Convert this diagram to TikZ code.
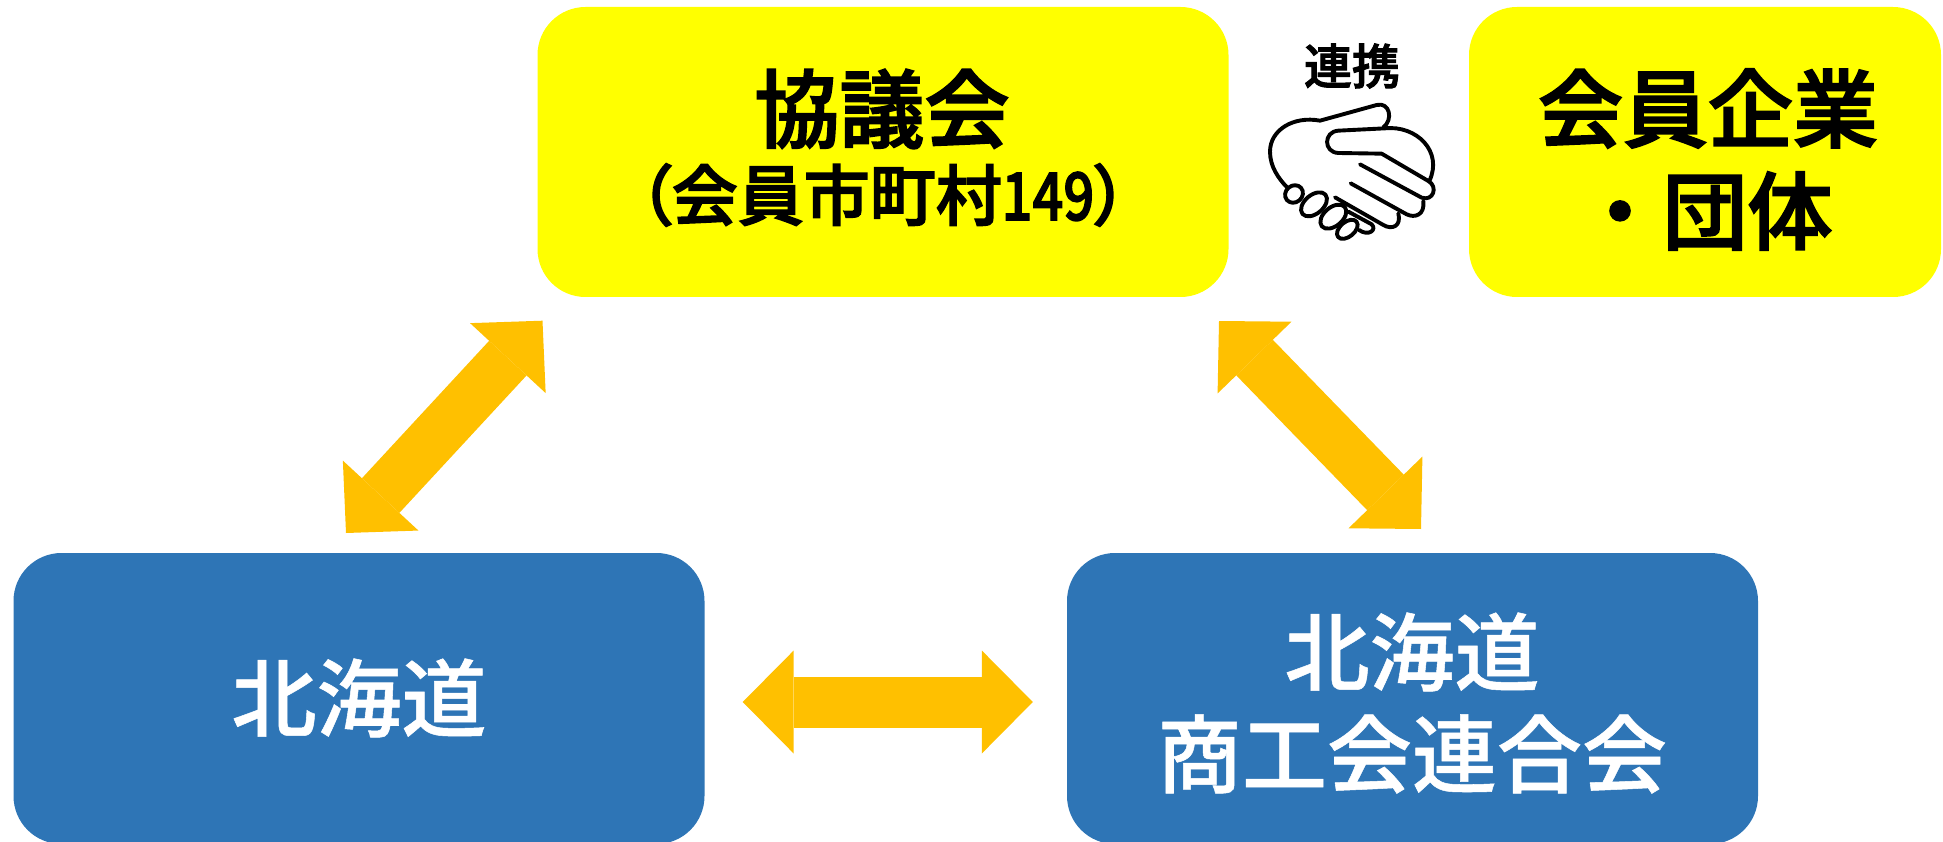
\documentclass[tikz,border=0pt]{standalone}
\usepackage{fontspec}
\setmainfont{Noto Sans CJK JP}
\newfontfamily\medfont{Noto Sans CJK JP Medium}[FakeBold=0.6]
\newfontfamily\kifont{Noto Sans CJK JP Medium}[FakeBold=2.2]
\newfontfamily\paltfont{Noto Sans CJK JP Medium}[FakeBold=2.2,RawFeature=+palt]
\usetikzlibrary{arrows.meta}
\definecolor{kiiro}{HTML}{FFFF00}
\definecolor{ao}{HTML}{2E75B6}
\definecolor{daidai}{HTML}{FFC000}
\newcommand{\fs}[1]{\fontsize{#1}{#1}\selectfont}
\tikzset{
  kibox/.style={fill=kiiro,rounded corners=48pt,minimum height=290pt,inner sep=0pt},
  aobox/.style={fill=ao,rounded corners=48pt,minimum width=691pt,minimum height=291pt,inner sep=0pt},
  kilabel/.style={inner sep=0pt,text=black,font=\kifont\fs{85}},
  aolabel/.style={inner sep=0pt,text=white,font=\medfont\fs{85}},
  renkei/.style={
    -,draw=daidai,line width=51pt,
    {Triangle[length=51pt,width=103pt,line width=0pt,fill=daidai]}-{Triangle[length=51pt,width=103pt,line width=0pt,fill=daidai]}},
  tesen/.style={draw=black,line width=3.9pt,line cap=round,line join=round},
  yubi/.style={fill=white},
}
\begin{document}
\begin{tikzpicture}[x=1pt,y=-1pt]
  \useasboundingbox (0,0) rectangle (1943,842);
  \clip (0,0) rectangle (1943,842);
  % boxes
  \node [kibox,minimum width=691pt] (kyogikai) at (883,152) {};
  \node [kibox,minimum width=472pt] (kaiin) at (1705,152) {};
  \node [aobox] (hokkaido) at (359,698.5) {};
  \node [aobox] (shokoren) at (1412.5,698.5) {};
  % texts
  \node [kilabel] (kyogikaitxt) at (882,109) {協議会};
  \node [kilabel,font=\paltfont\fs{66}] (kaiintxt) at (883,195) {（会員市町村\scalebox{.82}[1]{149}）};
  \node [kilabel] (kaiintxt1) at (1708,108.5) {会員企業};
  \node [kilabel] (kaiintxt2) at (1705,211) {・団体};
  \node [kilabel,font=\kifont\fs{48}] (renkeitxt) at (1352,66) {連携};
  \node [aolabel] (hokkaidotxt) at (359,698) {北海道};
  \node [aolabel] (shokorentxt1) at (1412,652) {北海道};
  \node [aolabel] (shokorentxt2) at (1412,754) {商工会連合会};
  % arrows
  \coordinate (kyogikaiL) at (542.5,320.7);
  \coordinate (hokkaidoU) at (346,533);
  \coordinate (kyogikaiR) at (1219,321);
  \coordinate (shokorenU) at (1421,529);
  \draw [renkei] (kyogikaiL)--(hokkaidoU);
  \draw [renkei] (kyogikaiR)--(shokorenU);
  \draw [renkei,shorten <=38pt,shorten >=34pt] ([yshift=-3.5pt]hokkaido.east)--([yshift=-3.5pt]shokoren.west);
  % handshake
  \begin{scope}[shift={(1260,95)},x=0.3333pt,y=-0.3333pt,tesen]
    \draw (370,97) .. controls (400,75) and (390,20) .. (350,30) -- (180,77)
      .. controls (100,62) and (30,105) .. (30,170) .. controls (30,215) and (55,250) .. (82,278);
    \draw (375,100) -- (235,107) .. controls (190,110) and (190,172) .. (235,174) -- (365,176) -- (505,258)
      .. controls (535,275) and (520,320) .. (485,308) -- (300,208);
    \draw (375,100) .. controls (470,90) and (550,170) .. (508,258);
    \draw (490,318) .. controls (495,360) and (465,370) .. (440,358) -- (272,265);
    \draw (415,355) .. controls (425,395) and (395,405) .. (370,390) -- (225,307);
    \draw (265,350) -- (335,388) .. controls (352,405) and (325,425) .. (297,405);
    \draw [yubi] (102,297) ellipse [x radius=28,y radius=25,rotate=40];
    \draw [yubi] (162,328) ellipse [x radius=45,y radius=28,rotate=40];
    \draw [yubi] (220,365) ellipse [x radius=45,y radius=28,rotate=40];
    \draw [yubi] (262,403) ellipse [x radius=36,y radius=22,rotate=40];
  \end{scope}
\end{tikzpicture}
\end{document}
